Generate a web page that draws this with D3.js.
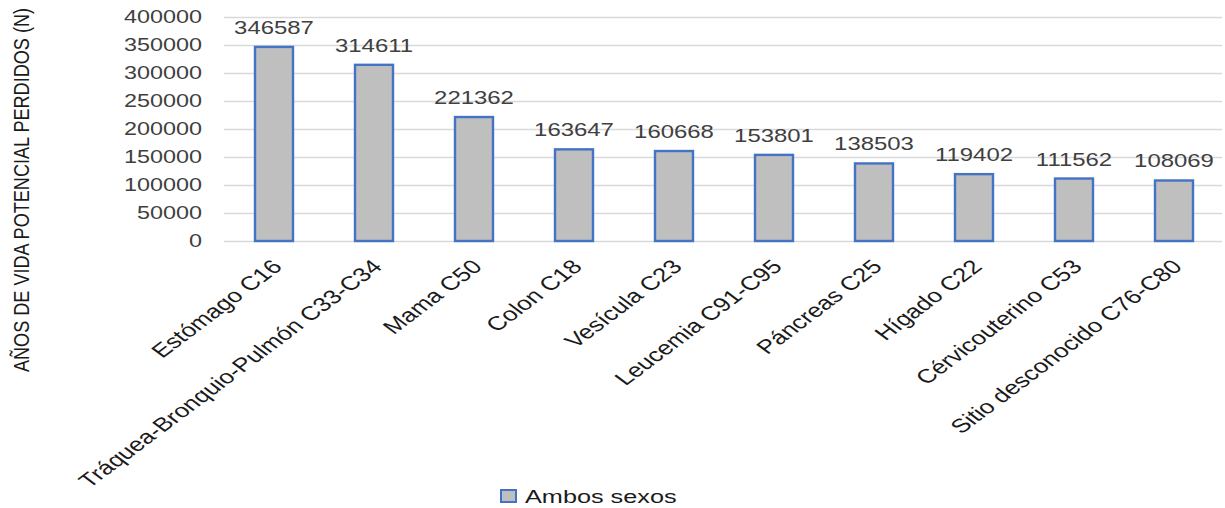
<!DOCTYPE html>
<html><head><meta charset="utf-8">
<script src="https://cdn.jsdelivr.net/npm/d3@7"></script>
<style>html,body{margin:0;padding:0;background:#fff;}svg{display:block;}</style>
</head><body>
<svg id="chart" width="1225" height="508"></svg>
<script>
const categories = ["Estómago C16","Tráquea-Bronquio-Pulmón C33-C34","Mama C50","Colon C18","Vesícula C23","Leucemia C91-C95","Páncreas C25","Hígado C22","Cérvicouterino C53","Sitio desconocido C76-C80"];
const values = [346587,314611,221362,163647,160668,153801,138503,119402,111562,108069];
const yTicks = [0,50000,100000,150000,200000,250000,300000,350000,400000];
const seriesName = "Ambos sexos";
const yTitle = "AÑOS DE VIDA POTENCIAL PERDIDOS (N)";

const SX = 1.33; // horizontal stretch of the original image
const font = "'Liberation Sans', Arial, sans-serif";
const txt = "#404040";
const svg = d3.select("#chart");

const x = d3.scaleBand().domain(categories).range([224,1224]).paddingInner(0.6).paddingOuter(0.3);
const y = d3.scaleLinear().domain([0,400000]).range([241,17]);

// gridlines
svg.append("g").selectAll("line").data(yTicks).join("line")
  .attr("x1",224).attr("x2",1222)
  .attr("y1",d=>y(d)+0.5).attr("y2",d=>y(d)+0.5)
  .attr("stroke","#d9d9d9").attr("stroke-width",1.5);

// y tick labels
svg.append("g").selectAll("text").data(yTicks).join("text")
  .attr("transform",d=>`translate(202,${y(d)}) scale(${SX},1)`)
  .attr("text-anchor","end").attr("dy","0.35em")
  .attr("font-family",font).attr("font-size",17.6).attr("fill",txt)
  .text(d=>d);

// bars
svg.append("g").selectAll("rect").data(values).join("rect")
  .attr("x",(d,i)=>x(categories[i])+1)
  .attr("width",x.bandwidth()-2)
  .attr("y",d=>y(d))
  .attr("height",d=>y(0)-y(d))
  .attr("fill","#bfbfbf").attr("stroke","#4472c4").attr("stroke-width",2.4);

// data labels
svg.append("g").selectAll("text").data(values).join("text")
  .attr("transform",(d,i)=>`translate(${x(categories[i])+x.bandwidth()/2},${y(d)-13}) scale(${SX},1)`)
  .attr("text-anchor","middle")
  .attr("font-family",font).attr("font-size",18).attr("fill",txt)
  .text(d=>d);

// x labels
svg.append("g").selectAll("text").data(categories).join("text")
  .attr("transform",d=>`translate(${x(d)+x.bandwidth()/2+3},${263}) scale(${SX},1) rotate(-45)`)
  .attr("text-anchor","end").attr("dy","0.35em")
  .attr("font-family",font).attr("font-size",19.5).attr("fill","#1a1a1a")
  .text(d=>d);

// y title
svg.append("text")
  .attr("transform",`translate(21,190) scale(${SX},1) rotate(-90)`)
  .attr("text-anchor","middle").attr("dy","0.35em")
  .attr("font-family",font).attr("font-size",16.5).attr("fill","#1a1a1a")
  .attr("textLength",364).attr("lengthAdjust","spacingAndGlyphs")
  .text(yTitle);

// legend
const lg = svg.append("g");
lg.append("rect").attr("x",501).attr("y",490).attr("width",15).attr("height",12)
  .attr("fill","#bfbfbf").attr("stroke","#4472c4").attr("stroke-width",2);
lg.append("text").attr("transform",`translate(525,496) scale(${SX},1)`)
  .attr("dy","0.35em").attr("font-family",font).attr("font-size",19).attr("fill","#1a1a1a")
  .text(seriesName);
</script>
</body></html>
